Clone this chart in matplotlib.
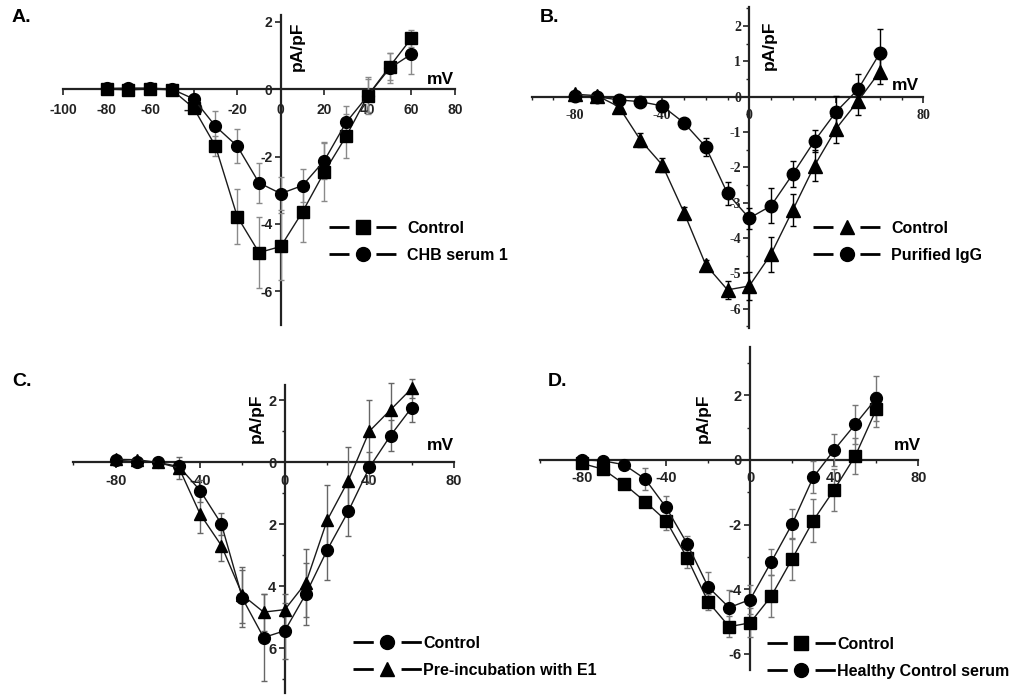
import numpy as np
import matplotlib
matplotlib.use("Agg")
import matplotlib.pyplot as plt
from matplotlib.lines import Line2D
from matplotlib.ticker import MultipleLocator, FixedLocator, FixedFormatter

plt.rcParams['font.family'] = ['Liberation Sans', 'DejaVu Sans']
plt.rcParams['font.weight'] = 'bold'
plt.rcParams['axes.unicode_minus'] = False

W, H = 1019, 698

# membrane potential steps (mV)
mv = [-80, -70, -60, -50, -40, -30, -20, -10, 0, 10, 20, 30, 40, 50, 60]

# Panel A: Control vs CHB serum 1
a_ctrl = [0.0, -0.02, 0.0, -0.02, -0.56, -1.69, -3.78, -4.85, -4.67, -3.64, -2.46, -1.40, -0.19, 0.67, 1.51]
a_ctrl_err = [0.05, 0.05, 0.05, 0.05, 0.15, 0.30, 0.82, 1.05, 1.00, 0.90, 0.85, 0.65, 0.50, 0.40, 0.25]
a_chb = [0.02, 0.03, 0.03, 0.0, -0.29, -1.10, -1.69, -2.78, -3.10, -2.86, -2.12, -0.99, -0.19, 0.62, 1.04]
a_chb_err = [0.05, 0.05, 0.05, 0.05, 0.15, 0.45, 0.50, 0.60, 0.50, 0.50, 0.55, 0.50, 0.55, 0.45, 0.58]

# Panel B: Control vs Purified IgG
b_ctrl = [0.07, 0.03, -0.28, -1.23, -1.93, -3.28, -4.76, -5.47, -5.36, -4.46, -3.21, -1.95, -0.90, -0.12, 0.71]
b_ctrl_err = [0.05, 0.05, 0.10, 0.20, 0.20, 0.15, 0.15, 0.25, 0.40, 0.50, 0.45, 0.45, 0.40, 0.40, 0.35]
b_igg = [0.02, 0.0, -0.09, -0.14, -0.26, -0.74, -1.42, -2.74, -3.44, -3.09, -2.19, -1.25, -0.42, 0.21, 1.23]
b_igg_err = [0.05, 0.05, 0.05, 0.05, 0.08, 0.10, 0.25, 0.33, 0.30, 0.50, 0.37, 0.32, 0.45, 0.42, 0.70]

# Panel C: Control vs Pre-incubation with E1
c_ctrl = [0.07, 0.03, 0.0, -0.13, -0.91, -1.98, -4.39, -5.65, -5.43, -4.24, -2.83, -1.58, -0.16, 0.87, 1.77]
c_ctrl_err = [0.05, 0.05, 0.05, 0.10, 0.35, 0.35, 0.92, 1.40, 0.90, 1.00, 0.95, 0.80, 0.50, 0.50, 0.48]
c_e1 = [0.10, 0.09, 0.0, -0.18, -1.67, -2.68, -4.28, -4.83, -4.75, -3.88, -1.87, -0.59, 1.01, 1.70, 2.39]
c_e1_err = [0.05, 0.05, 0.05, 0.35, 0.60, 0.50, 0.90, 0.60, 0.50, 1.10, 1.15, 1.10, 1.00, 0.85, 0.30]

# Panel D: Control vs Healthy Control serum
d_ctrl = [-0.11, -0.29, -0.75, -1.29, -1.88, -3.03, -4.39, -5.16, -5.04, -4.22, -3.06, -1.88, -0.92, 0.12, 1.56]
d_ctrl_err = [0.05, 0.08, 0.10, 0.15, 0.30, 0.30, 0.25, 0.32, 0.45, 0.65, 0.65, 0.67, 0.65, 0.55, 0.55]
d_hcs = [0.0, -0.03, -0.15, -0.59, -1.47, -2.59, -3.93, -4.57, -4.32, -3.16, -1.98, -0.54, 0.31, 1.10, 1.90]
d_hcs_err = [0.05, 0.05, 0.10, 0.33, 0.35, 0.25, 0.45, 0.55, 0.45, 0.40, 0.47, 0.50, 0.50, 0.60, 0.70]


def px_rect(x0, y0, x1, y1):
    return [x0 / W, 1 - y1 / H, (x1 - x0) / W, (y1 - y0) / H]


def fig_text(fig, x, y, s, **kw):
    fig.text(x / W, 1 - y / H, s, **kw)


def setup_axes(ax, xlim, ylim, tick_size, tick_family=None, xpad=4):
    ax.set_xlim(*xlim)
    ax.set_ylim(*ylim)
    for side in ['top', 'right']:
        ax.spines[side].set_visible(False)
    for side in ['left', 'bottom']:
        ax.spines[side].set_position(('data', 0))
        ax.spines[side].set_linewidth(1.6)
        ax.spines[side].set_color('#222222')
    ax.patch.set_alpha(0)
    ax.tick_params(which='major', direction='out', length=4, width=1.2, colors='#222222',
                   labelsize=tick_size, pad=2)
    ax.tick_params(axis='x', which='major', pad=xpad)
    ax.tick_params(which='minor', direction='out', length=2.5, width=1.0, colors='#222222')
    fam = tick_family if tick_family else 'Liberation Sans'
    for lab in ax.get_xticklabels() + ax.get_yticklabels():
        lab.set_fontfamily(fam)
        lab.set_fontweight('bold')


def draw_series(ax, y, err, marker, ms, ecolor):
    ax.errorbar(mv, y, yerr=err, color='#1a1a1a', lw=1.0, marker=marker, ms=ms,
                mfc='black', mec='black', ecolor=ecolor, elinewidth=1.0, capsize=2.5,
                capthick=1.0, zorder=3, clip_on=False)


def add_legend(ax, fig, x_left, y_center, entries, handlelength, textpad, dash):
    handles = [Line2D([], [], color='black', lw=2, ls=(0, dash), marker=m,
                      ms=s, mfc='black', mec='black') for m, s, _ in entries]
    labels = [lab for _, _, lab in entries]
    leg = ax.legend(handles, labels, loc='center left',
                    bbox_to_anchor=(x_left / W, 1 - y_center / H),
                    bbox_transform=fig.transFigure, frameon=False, borderpad=0,
                    borderaxespad=0, handlelength=handlelength, handletextpad=textpad,
                    labelspacing=0.75, numpoints=1,
                    prop={'family': 'Liberation Sans', 'weight': 'bold', 'size': 11.5})
    return leg


fig = plt.figure(figsize=(W / 100, H / 100), dpi=100)

# ---------------- Panel A ----------------
axA = fig.add_axes(px_rect(63, 15, 455, 325))
draw_series(axA, a_ctrl, a_ctrl_err, 's', 8, '#8a8a8a')
draw_series(axA, a_chb, a_chb_err, 'o', 8.5, '#8a8a8a')
axA.xaxis.set_major_locator(MultipleLocator(20))
axA.yaxis.set_major_locator(MultipleLocator(2))
setup_axes(axA, (-100, 80), (-7, 2.2), 10, xpad=6)
add_legend(axA, fig, 329, 242, [('s', 10, 'Control'), ('o', 10, 'CHB serum 1')],
           4.2, 0.7, (7.2, 9.7))
fig_text(fig, 297, 46, 'pA/pF', rotation=90, ha='center', va='center', fontsize=12.5, fontweight='bold')
fig_text(fig, 440, 79, 'mV', ha='center', va='center', fontsize=12.5, fontweight='bold')
fig_text(fig, 12, 18, 'A.', ha='left', va='center', fontsize=14, fontweight='bold')

# ---------------- Panel B ----------------
axB = fig.add_axes(px_rect(531.7, 6.7, 923.3, 328))
draw_series(axB, b_igg, b_igg_err, 'o', 9, 'black')
draw_series(axB, b_ctrl, b_ctrl_err, '^', 10, 'black')
axB.xaxis.set_major_locator(MultipleLocator(40))
axB.xaxis.set_minor_locator(MultipleLocator(10))
axB.yaxis.set_major_locator(MultipleLocator(1))
axB.yaxis.set_minor_locator(MultipleLocator(0.5))
setup_axes(axB, (-100, 80), (-6.55, 2.55), 10, tick_family='Liberation Serif', xpad=5)
add_legend(axB, fig, 813, 242, [('^', 10, 'Control'), ('o', 10, 'Purified IgG')],
           4.2, 0.7, (7.2, 9.7))
fig_text(fig, 769, 45, 'pA/pF', rotation=90, ha='center', va='center', fontsize=12.5, fontweight='bold')
fig_text(fig, 905, 85, 'mV', ha='center', va='center', fontsize=12.5, fontweight='bold')
fig_text(fig, 540, 18, 'B.', ha='left', va='center', fontsize=14, fontweight='bold')

# ---------------- Panel C ----------------
axC = fig.add_axes(px_rect(73.3, 385, 454, 693.3))
draw_series(axC, c_ctrl, c_ctrl_err, 'o', 8.5, '#666666')
draw_series(axC, c_e1, c_e1_err, '^', 9, '#666666')
axC.xaxis.set_major_locator(MultipleLocator(40))
axC.xaxis.set_minor_locator(MultipleLocator(20))
axC.yaxis.set_major_locator(FixedLocator([-6, -4, -2, 0, 2]))
axC.yaxis.set_major_formatter(FixedFormatter(['6', '4', '2', '0', '2']))
axC.yaxis.set_minor_locator(MultipleLocator(1))
setup_axes(axC, (-100, 80), (-7.45, 2.5), 10.5)
add_legend(axC, fig, 353, 657, [('o', 10, 'Control'), ('^', 10, 'Pre-incubation with E1')],
           4.3, 0.1, (7.3, 10.0))
fig_text(fig, 256, 418, 'pA/pF', rotation=90, ha='center', va='center', fontsize=12.5, fontweight='bold')
fig_text(fig, 440, 446, 'mV', ha='center', va='center', fontsize=12.5, fontweight='bold')
fig_text(fig, 12, 382, 'C.', ha='left', va='center', fontsize=14, fontweight='bold')

# ---------------- Panel D ----------------
axD = fig.add_axes(px_rect(540, 346.7, 918.3, 670))
draw_series(axD, d_ctrl, d_ctrl_err, 's', 8.5, '#777777')
draw_series(axD, d_hcs, d_hcs_err, 'o', 8.5, '#777777')
axD.xaxis.set_major_locator(MultipleLocator(40))
axD.xaxis.set_minor_locator(MultipleLocator(20))
axD.yaxis.set_major_locator(MultipleLocator(2))
axD.yaxis.set_minor_locator(MultipleLocator(1))
setup_axes(axD, (-100, 80), (-6.5, 3.5), 10.5)
add_legend(axD, fig, 767, 658, [('s', 10, 'Control'), ('o', 10, 'Healthy Control serum')],
           4.3, 0.1, (7.3, 10.0))
fig_text(fig, 703, 418, 'pA/pF', rotation=90, ha='center', va='center', fontsize=12.5, fontweight='bold')
fig_text(fig, 907, 446, 'mV', ha='center', va='center', fontsize=12.5, fontweight='bold')
fig_text(fig, 548, 381, 'D.', ha='left', va='center', fontsize=14, fontweight='bold')

fig.savefig('out.png', dpi=100)
